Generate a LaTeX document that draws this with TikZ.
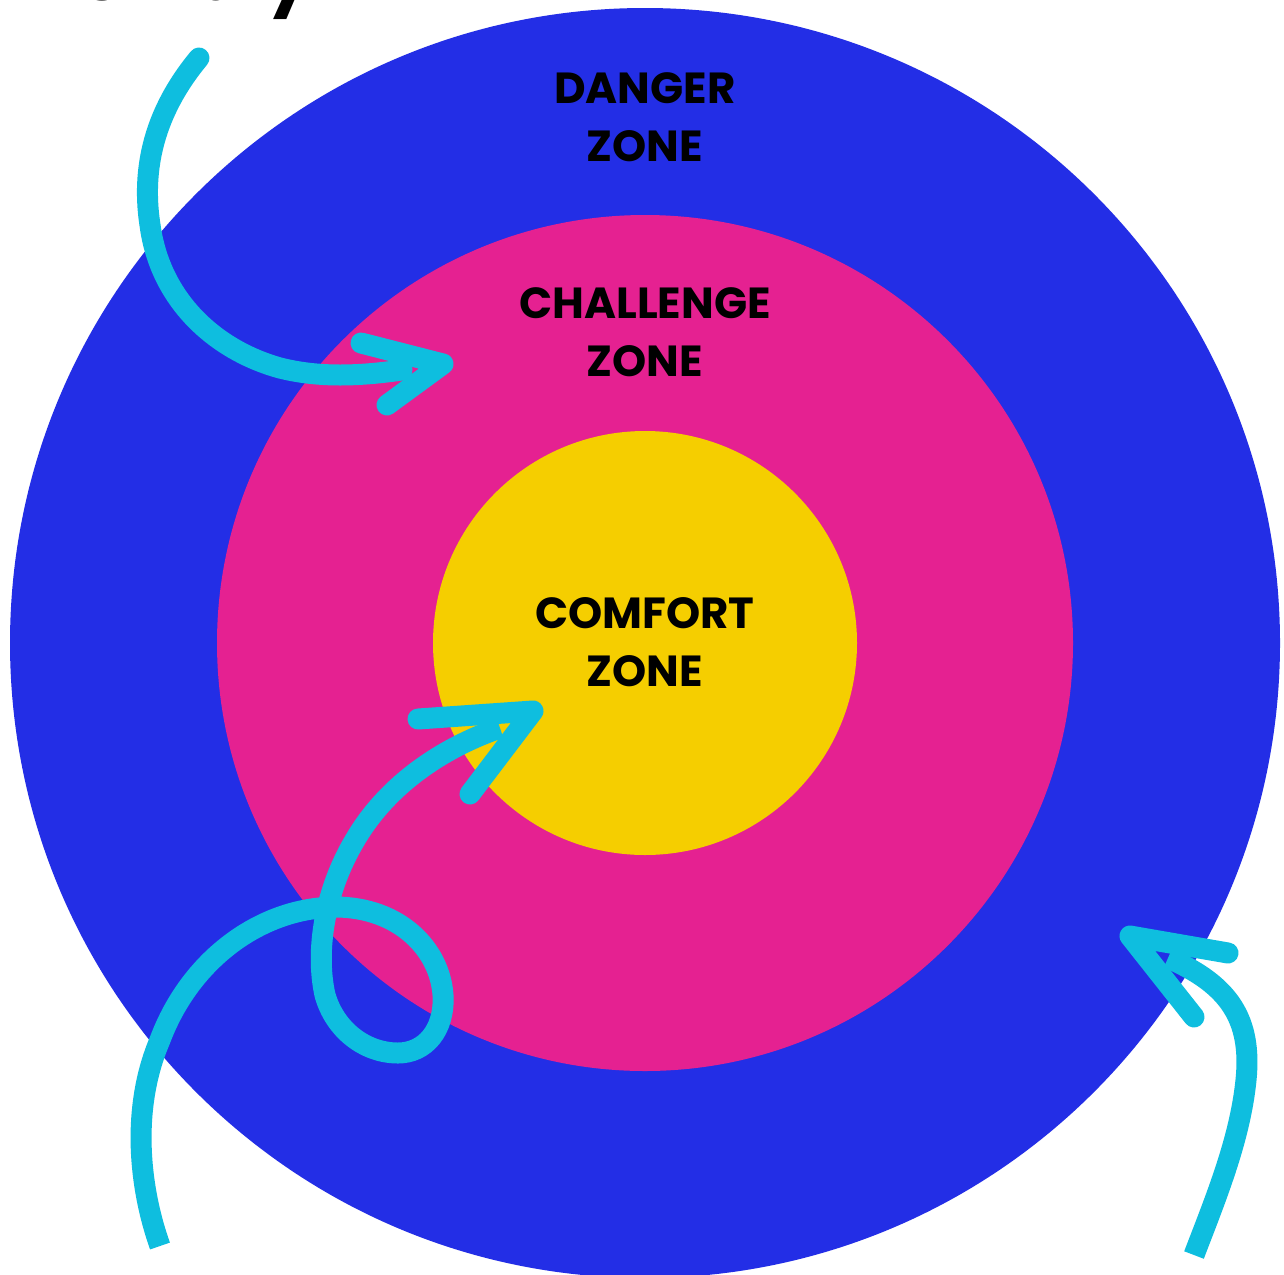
\documentclass[tikz,border=0pt]{standalone}
\usepackage{fontspec}
\setmainfont{Poppins}
\definecolor{danger}{RGB}{35,46,230}
\definecolor{challenge}{RGB}{229,33,145}
\definecolor{comfort}{RGB}{245,206,0}
\definecolor{cyanline}{RGB}{14,190,223}
\begin{document}
\begin{tikzpicture}[x=1pt,y=-1pt,
  zonelabel/.style={font=\fontsize{43.5}{58}\selectfont\bfseries, text=black, align=center, inner sep=0pt},
  stroke/.style={draw=cyanline, line width=21pt, line cap=round, line join=round},
  cutstroke/.style={draw=cyanline, line width=21pt, line cap=butt, line join=round}]
\useasboundingbox (0,0) rectangle (1284,1274);
\fill[white] (0,0) rectangle (1284,1274);
% zones
\fill[danger] (645,643) circle[radius=635];
\fill[challenge] (645,643) circle[radius=428];
\fill[comfort] (645,643) circle[radius=212];
% labels (base anchor = baseline of last line)
\node[zonelabel, anchor=base] (danger) at (645,161) {DANGER\\ZONE};
\node[zonelabel, anchor=base] (challenge) at (645,376) {CHALLENGE\\ZONE};
\node[zonelabel, anchor=base] (comfort) at (645,686) {COMFORT\\ZONE};
% cropped handwriting at top
\node[font=\fontsize{72}{80}\selectfont\bfseries, anchor=base west, inner sep=0pt] (truly) at (60,0) {is truly};
% arrow 1 (top left)
\coordinate (a1s) at (199,58);
\coordinate (a1t) at (443,364);
\draw[stroke] (a1s) .. controls (160,105) and (140,160) .. (150,225)
  .. controls (160,300) and (215,350) .. (280,368)
  .. controls (320,378) and (360,376) .. (402,370);
\draw[stroke] (361,343) -- (a1t) -- (387,405);
% arrow 2 (loop into comfort zone)
\coordinate (a2s) at (160,1246);
\coordinate (a2t) at (533,711);
\draw[cutstroke] (a2s) .. controls (140,1190) and (130,1110) .. (160,1040)
  .. controls (190,960) and (260,908) .. (335,907)
  .. controls (400,907) and (440,950) .. (443,995)
  .. controls (445,1030) and (425,1053) .. (398,1053)
  .. controls (365,1053) and (335,1030) .. (325,995)
  .. controls (315,950) and (325,890) .. (355,840)
  .. controls (390,780) and (450,745) .. (500,728);
\draw[stroke] (418,719) -- (a2t) -- (470,794);
% arrow 3 (bottom right)
\coordinate (a3s) at (1194,1255);
\coordinate (a3t) at (1130,936);
\draw[cutstroke] (a3s) .. controls (1215,1200) and (1240,1140) .. (1246,1080)
  .. controls (1252,1020) and (1230,985) .. (1168,958);
\draw[stroke] (1228,953) -- (a3t) -- (1194,1017);
\end{tikzpicture}
\end{document}
